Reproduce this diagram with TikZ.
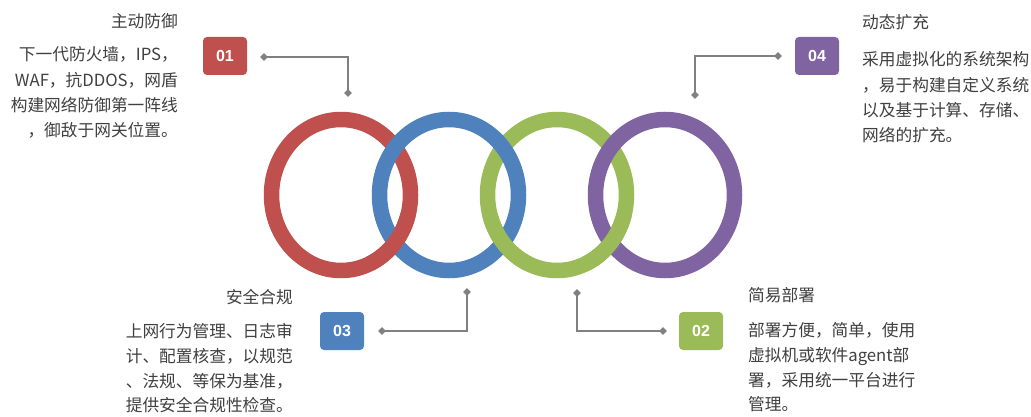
\documentclass[tikz,border=0pt]{standalone}
\usepackage{fontspec}
\newfontfamily\cjk{Noto Sans CJK SC}
\setsansfont{Liberation Sans}
\usetikzlibrary{shapes.geometric}
\definecolor{cred}{HTML}{C0504D}
\definecolor{cblue}{HTML}{4F81BD}
\definecolor{cgreen}{HTML}{9BBB59}
\definecolor{cpurple}{HTML}{8064A2}
\definecolor{lgray}{HTML}{808080}
\definecolor{tgray}{HTML}{404040}
\begin{document}
\begin{tikzpicture}[x=1pt,y=-1pt,
  ring/.style={line width=15.5pt},
  badge/.style={rounded corners=4pt, minimum width=44pt, minimum height=38pt, inner sep=0pt, text=white, font=\sffamily\bfseries\fontsize{16}{16}\selectfont},
  dia/.style={diamond, fill=lgray, inner sep=0pt, minimum size=8pt},
  conn/.style={draw=lgray, line width=2.5pt},
  ttl/.style={text=tgray, font=\cjk\fontsize{16.7}{20}\selectfont, inner sep=0pt},
  body/.style={text=tgray, font=\cjk\fontsize{16.7}{25.3}\selectfont, inner sep=0pt},
  bodyb/.style={text=tgray, font=\cjk\fontsize{16.7}{24.7}\selectfont, inner sep=0pt}
]
\useasboundingbox (0,0) rectangle (1031,417);
\fill[white] (0,0) rectangle (1031,417);

% ring centres
\coordinate (r1) at (341,195);
\coordinate (r2) at (449,195);
\coordinate (r3) at (557,195);
\coordinate (r4) at (665,195);

% full rings
\draw[ring, cred] (r1) ellipse [x radius=69.5pt, y radius=75.5pt];
\draw[ring, cgreen] (r3) ellipse [x radius=69.5pt, y radius=75.5pt];
\draw[ring, cblue] (r2) ellipse [x radius=69.5pt, y radius=75.5pt];
\draw[ring, cpurple] (r4) ellipse [x radius=69.5pt, y radius=75.5pt];
% interlocking fixes (bottom crossings)
\draw[ring, cred] (r1) ++(-65:69.5pt and 75.5pt) arc[start angle=-65, end angle=-15, x radius=69.5pt, y radius=75.5pt];
\draw[ring, cgreen] (r3) ++(195:69.5pt and 75.5pt) arc[start angle=195, end angle=245, x radius=69.5pt, y radius=75.5pt];
\draw[ring, cgreen] (r3) ++(-65:69.5pt and 75.5pt) arc[start angle=-65, end angle=-15, x radius=69.5pt, y radius=75.5pt];

% badges
\node[badge, fill=cred] (b1) at (225,56) {01};
\node[badge, fill=cpurple] (b4) at (817,56) {04};
\node[badge, fill=cblue] (b3) at (342,331) {03};
\node[badge, fill=cgreen] (b2) at (701,331) {02};

% connector ends
\coordinate (d1a) at (264,57);
\coordinate (d1b) at (348,93);
\coordinate (d4a) at (778,56);
\coordinate (d4b) at (695,95);
\coordinate (d3a) at (382,331);
\coordinate (d3b) at (467,292);
\coordinate (d2a) at (663,331);
\coordinate (d2b) at (577,293);

\draw[conn] (d1a) -| (d1b);
\draw[conn] (d4a) -| (d4b);
\draw[conn] (d3a) -| (d3b);
\draw[conn] (d2a) -| (d2b);
\foreach \p in {d1a,d1b,d4a,d4b,d3a,d3b,d2a,d2b} \node[dia] at (\p) {};

% texts
\node[ttl, anchor=east] (t1) at (178,21.5) {主动防御};
\node[body, anchor=north east, align=right] (x1) at (178,46.5) {下一代防火墙，IPS，\\WAF，抗DDOS，网盾\\构建网络防御第一阵线\\，御敌于网关位置。};

\node[ttl, anchor=west] (t4) at (862,22.5) {动态扩充};
\node[body, anchor=north west, align=left] (x4) at (862,51.5) {采用虚拟化的系统架构\\，易于构建自定义系统\\以及基于计算、存储、\\网络的扩充。};

\node[ttl, anchor=east] (t3) at (293,297) {安全合规};
\node[bodyb, anchor=north east, align=right] (x3) at (293,323.5) {上网行为管理、日志审\\计、配置核查，以规范\\、法规、等保为基准，\\提供安全合规性检查。};

\node[ttl, anchor=west] (t2) at (748,295.5) {简易部署};
\node[bodyb, anchor=north west, align=left] (x2) at (748,322.5) {部署方便，简单，使用\\虚拟机或软件agent部\\署，采用统一平台进行\\管理。};
\end{tikzpicture}
\end{document}
